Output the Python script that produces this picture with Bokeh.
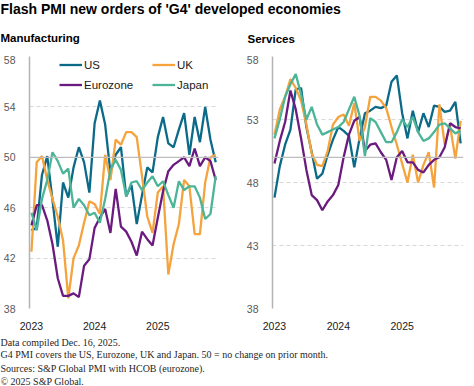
from bokeh.plotting import figure
from bokeh.models import Range1d, FixedTicker, Legend, LegendItem, Span, Label
from bokeh.layouts import column, row
from bokeh.embed import file_html
from bokeh.resources import INLINE

# ---------------- data ----------------
months = [f"{y}-{m:02d}" for y in (2023, 2024, 2025) for m in range(1, 13)]
year_labels = ["2023", "2024", "2025"]

mfg_us = [44.2, 44.4, 48.6, 50.1, 46.6, 42.9, 48.0, 46.8, 49.2, 50.8, 49.6, 47.2,
          52.7, 54.5, 52.6, 48.8, 50.2, 50.8, 46.9, 47.8, 44.7, 47.0, 49.2, 48.8,
          51.6, 53.2, 51.1, 50.8, 52.2, 53.5, 50.2, 53.2, 51.2, 54.0, 51.4, 49.6]
mfg_uk = [42.5, 49.6, 50.1, 48.2, 46.7, 45.3, 43.4, 38.8, 42.0, 43.0, 44.8, 46.5,
          46.3, 45.5, 50.2, 48.2, 51.4, 51.0, 52.0, 52.0, 51.6, 48.5, 45.3, 44.0,
          47.2, 47.7, 40.7, 43.1, 44.7, 48.2, 47.7, 43.9, 43.9, 48.0, 50.0, 50.2]
mfg_ez = [44.6, 46.2, 46.2, 45.0, 43.1, 40.4, 39.0, 39.0, 39.2, 38.9, 41.4, 41.9,
          44.4, 45.2, 45.9, 44.0, 47.5, 44.5, 44.1, 43.3, 42.2, 44.1, 43.5, 43.0,
          45.2, 47.3, 48.9, 49.4, 49.7, 50.0, 49.3, 50.7, 49.3, 50.0, 49.7, 48.2]
mfg_jp = [45.6, 44.2, 46.7, 48.2, 50.4, 49.7, 48.7, 49.1, 46.0, 46.7, 46.2, 45.4,
          45.6, 44.8, 46.7, 49.0, 49.8, 49.0, 46.9, 48.0, 48.1, 47.4, 48.0, 48.5,
          47.7, 48.1, 47.0, 46.0, 48.1, 47.4, 47.7, 47.7, 46.8, 45.1, 45.5, 48.5]

svc_us = [46.8, 49.3, 51.0, 52.2, 55.4, 55.5, 52.4, 50.4, 48.3, 48.7, 50.2, 51.4,
          52.4, 52.1, 51.7, 49.2, 51.5, 53.5, 53.7, 54.0, 53.9, 54.1, 56.0, 56.5,
          53.5, 51.5, 53.7, 52.0, 53.5, 52.4, 54.1, 54.0, 53.6, 53.7, 54.4, 51.1]
svc_uk = [51.8, 53.8, 54.8, 56.2, 55.5, 54.5, 52.6, 50.3, 49.4, 49.3, 50.5, 52.6,
          53.2, 53.4, 52.5, 54.3, 51.3, 52.4, 54.8, 54.8, 54.5, 53.9, 52.4, 51.0,
          49.5, 48.0, 50.2, 48.0, 49.4, 50.4, 47.6, 54.2, 51.0, 52.5, 49.9, 52.9]
svc_ez = [49.5, 51.3, 52.8, 55.3, 53.8, 51.5, 49.0, 47.0, 46.6, 45.8, 46.5, 47.0,
          47.8, 50.0, 51.8, 52.9, 53.2, 50.5, 51.0, 51.1, 50.4, 49.8, 48.2, 50.0,
          50.5, 49.6, 49.6, 49.0, 48.8, 49.4, 49.8, 50.0, 50.8, 52.7, 52.4, 52.3]
svc_jp = [51.5, 53.0, 54.8, 55.8, 56.6, 55.0, 53.0, 54.0, 52.6, 51.8, 52.0, 52.2,
          52.4, 52.8, 53.8, 54.8, 53.3, 50.1, 53.1, 52.8, 52.0, 51.2, 51.2, 52.0,
          53.0, 52.4, 53.2, 52.0, 51.3, 51.5, 52.0, 52.6, 52.7, 52.3, 51.9, 52.1]

series_names = ["US", "UK", "Eurozone", "Japan"]
mfg_ticks = [38, 42, 46, 50, 54, 58]
svc_ticks = [38, 43, 48, 53, 58]

title_text = "Flash PMI new orders of 'G4' developed economies"
footer_lines = [
    "Data compiled Dec. 16, 2025.",
    "G4 PMI covers the US, Eurozone, UK and Japan. 50 = no change on prior month.",
    "Sources: S&P Global PMI with HCOB (eurozone).",
    "\u00a9 2025 S&P Global.",
]

# ---------------- style ----------------
COLORS = {"US": "#0b6a88", "UK": "#f5a33d", "Eurozone": "#6b1b7f", "Japan": "#4db597"}
FONT = "Liberation Sans"
W_TOTAL = 474
HEADER_H, PANEL_H, FOOTER_H = 55, 277, 54

x = list(range(len(months)))
tick_pos = [months.index(f"{y}-01") for y in year_labels]


def text_fig(w, h):
    f = figure(width=w, height=h, x_range=Range1d(0, w), y_range=Range1d(0, h),
               output_backend="svg", toolbar_location=None, min_border=0,
               outline_line_color=None, x_axis_type=None, y_axis_type=None)
    f.grid.visible = False
    return f


def panel(width, border_left, border_right, ticks, data):
    p = figure(width=width, height=PANEL_H,
               x_range=Range1d(-0.37, len(months) - 0.47), y_range=Range1d(38, 58),
               output_backend="svg", toolbar_location=None,
               min_border_left=border_left, min_border_right=border_right,
               min_border_top=1, min_border_bottom=22, outline_line_color=None)
    p.xgrid.visible = False
    p.ygrid.grid_line_color = "#d9d9d9"
    p.ygrid.grid_line_dash = "4 3"
    p.ygrid.grid_line_width = 1
    p.yaxis.ticker = FixedTicker(ticks=ticks)
    p.xaxis.ticker = FixedTicker(ticks=tick_pos)
    p.xaxis.major_label_overrides = {tp: lab for tp, lab in zip(tick_pos, year_labels)}
    for ax in (p.xaxis[0], p.yaxis[0]):
        ax.major_tick_line_color = None
        ax.minor_tick_line_color = None
        ax.major_label_text_font = FONT
        ax.major_label_text_font_size = "10.5px"
    p.xaxis.axis_line_color = None
    p.xaxis.major_label_text_color = "#1a1a1a"
    p.xaxis.major_label_standoff = 7
    p.yaxis.axis_line_color = "#b3b3b3"
    p.yaxis.axis_line_width = 1.5
    p.yaxis.major_label_text_color = "#595959"
    p.yaxis.major_label_standoff = 8
    p.add_layout(Span(location=50, dimension="width", line_color="#bdbdbd", line_width=1.2))
    rs = {}
    for name, vals in zip(series_names, data):
        rs[name] = p.line(x, vals, line_color=COLORS[name], line_width=2.3)
    return p, rs


def add_legends(p, rs):
    for names, xloc in ((["US", "Eurozone"], 30), (["UK", "Japan"], 123)):
        leg = Legend(items=[LegendItem(label=n, renderers=[rs[n]]) for n in names],
                     location=(xloc, 215), orientation="vertical",
                     label_text_font=FONT, label_text_font_size="11.5px",
                     label_text_color="#1a1a1a", glyph_width=23, glyph_height=17,
                     label_height=17, label_standoff=2, spacing=3, padding=0, margin=0,
                     border_line_color=None, background_fill_alpha=0)
        p.add_layout(leg)


# header
header = text_fig(W_TOTAL, HEADER_H)
header.add_layout(Label(x=0, y=HEADER_H, text=title_text, text_font=FONT,
                        text_font_size="14px", text_font_style="bold",
                        text_baseline="top", text_color="#000000"))
header.add_layout(Label(x=0, y=HEADER_H - 31, text="Manufacturing", text_font=FONT,
                        text_font_size="11.5px", text_font_style="bold",
                        text_baseline="top", text_color="#000000"))
header.add_layout(Label(x=247, y=HEADER_H - 32, text="Services", text_font=FONT,
                        text_font_size="11.5px", text_font_style="bold",
                        text_baseline="top", text_color="#000000"))

left, rs_left = panel(243, 23, 25, mfg_ticks, [mfg_us, mfg_uk, mfg_ez, mfg_jp])
add_legends(left, rs_left)
right, _ = panel(231, 25, 11, svc_ticks, [svc_us, svc_uk, svc_ez, svc_jp])

footer = text_fig(W_TOTAL, FOOTER_H)
for off, line in zip([9.7, 22.3, 36.0, 49.3], footer_lines):
    footer.add_layout(Label(x=0, y=FOOTER_H - off, text=line,
                            text_font="Liberation Sans Narrow", text_font_size="10px",
                            text_baseline="middle", text_color="#262626"))

layout = column(header, row(left, right), footer)
open("out.html", "w").write(file_html(layout, INLINE))
